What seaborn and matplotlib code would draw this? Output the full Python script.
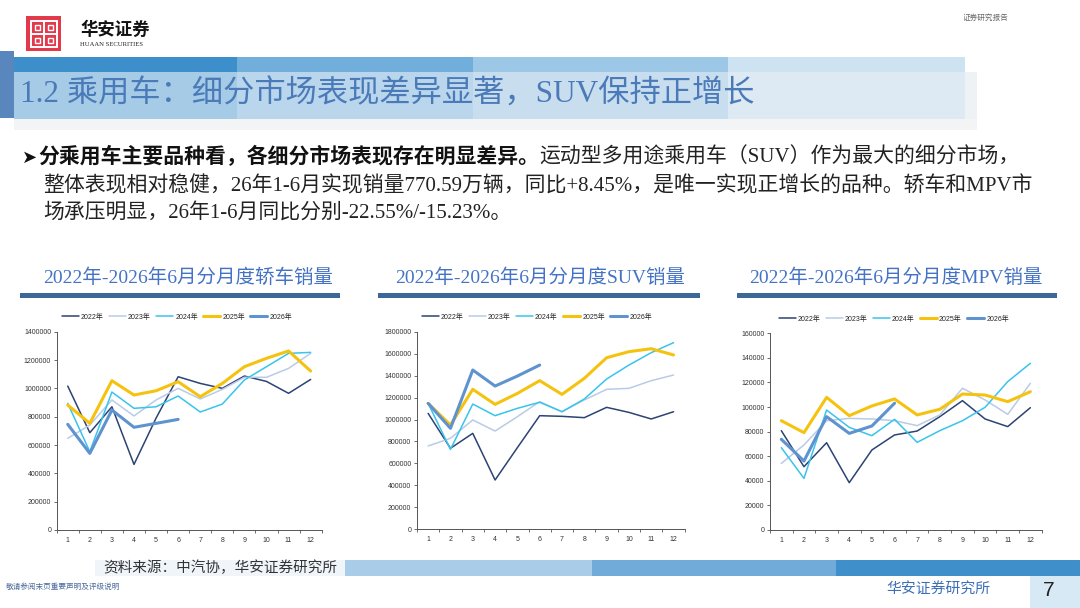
import numpy as np
import pandas as pd
import matplotlib
matplotlib.use("Agg")
import matplotlib.pyplot as plt
import seaborn as sns
from matplotlib.patches import Rectangle
from matplotlib.ticker import FuncFormatter

# ---- data ----
MONTHS = list(range(1, 13))
YEARS = ["2022年", "2023年", "2024年", "2025年", "2026年"]

SEDAN_2022 = [1016000, 687000, 870000, 463000, 790000, 1082000, 1035000, 1000000, 1087000, 1049000, 965000, 1063000]
SEDAN_2023 = [647000, 741000, 918000, 805000, 918000, 1000000, 925000, 993000, 1078000, 1078000, 1141000, 1247000]
SEDAN_2024 = [894000, 553000, 974000, 859000, 870000, 946000, 833000, 889000, 1059000, 1153000, 1247000, 1254000]
SEDAN_2025 = [882000, 753000, 1054000, 953000, 983000, 1047000, 941000, 1035000, 1153000, 1212000, 1264000, 1122000]
SEDAN_2026 = [746000, 541000, 847000, 725000, 753000, 781000]

SUV_2022 = [1056000, 738000, 874000, 449000, 744000, 1035000, 1029000, 1017000, 1111000, 1065000, 1005000, 1071000]
SUV_2023 = [759000, 829000, 996000, 895000, 1026000, 1163000, 1071000, 1178000, 1275000, 1284000, 1354000, 1405000]
SUV_2024 = [1147000, 728000, 1141000, 1035000, 1102000, 1157000, 1071000, 1187000, 1369000, 1496000, 1609000, 1700000]
SUV_2025 = [1147000, 950000, 1275000, 1138000, 1238000, 1354000, 1229000, 1375000, 1563000, 1618000, 1645000, 1588000]
SUV_2026 = [1147000, 920000, 1451000, 1305000, 1396000, 1496000]

MPV_2022 = [80800, 51500, 71000, 38500, 65100, 77300, 80500, 92200, 105200, 90300, 84100, 99500]
MPV_2023 = [54200, 69200, 88900, 90800, 90300, 88900, 84900, 93600, 115300, 105800, 94100, 119300]
MPV_2024 = [67000, 42000, 97600, 83500, 76700, 90000, 71300, 80800, 88900, 99800, 120700, 135600]
MPV_2025 = [88900, 79200, 107900, 93000, 100900, 106600, 93600, 98200, 110600, 109800, 104400, 112500]
MPV_2026 = [73800, 56100, 92200, 78600, 84600, 103100]

CHART_TITLES = ["2022年-2026年6月分月度轿车销量", "2022年-2026年6月分月度SUV销量", "2022年-2026年6月分月度MPV销量"]
Y_TOPS = [1400000, 1800000, 160000]
Y_STEPS = [200000, 200000, 20000]

PALETTE = {"2022年": "#2C4373", "2023年": "#B9CBE6", "2024年": "#38C4EC",
           "2025年": "#F5C30F", "2026年": "#5F93CF"}
WIDTHS = {"2022年": 1.1, "2023年": 1.1, "2024年": 1.1, "2025年": 2.2, "2026年": 2.2}

SERIF_CJK = ["Liberation Serif", "Noto Sans CJK SC", "DejaVu Sans"]


def to_long(series_list):
    rows = []
    for year, vals in zip(YEARS, series_list):
        for m, v in zip(MONTHS, vals):
            rows.append({"month": m, "sales": v, "year": year})
    return pd.DataFrame(rows)


datasets = [
    to_long([SEDAN_2022, SEDAN_2023, SEDAN_2024, SEDAN_2025, SEDAN_2026]),
    to_long([SUV_2022, SUV_2023, SUV_2024, SUV_2025, SUV_2026]),
    to_long([MPV_2022, MPV_2023, MPV_2024, MPV_2025, MPV_2026]),
]

sns.set_theme(style="white")
plt.rcParams["font.family"] = ["Liberation Sans", "Noto Sans CJK SC", "DejaVu Sans"]

W, H = 1080, 608
fig = plt.figure(figsize=(W / 100, H / 100), dpi=100)
fig.patch.set_facecolor("white")

# background layer in pixel coordinates (y down)
bg = fig.add_axes([0, 0, 1, 1], zorder=0)
bg.set_xlim(0, W)
bg.set_ylim(H, 0)
bg.axis("off")


def box(x0, y0, x1, y1, color):
    bg.add_patch(Rectangle((x0, y0), x1 - x0, y1 - y0, facecolor=color, lw=0))


# logo
box(26, 16, 61, 51, "#E23A4B")
bg.add_patch(Rectangle((30.5, 20.5), 26, 26, fill=False, ec="white", lw=1.4))
bg.plot([43.5, 43.5], [20.5, 46.5], color="white", lw=1.4)
bg.plot([30.5, 56.5], [33.5, 33.5], color="white", lw=1.4)
for (cx, cy) in [(37, 27), (50, 27), (37, 40), (50, 40)]:
    bg.add_patch(Rectangle((cx - 2.5, cy - 2.5), 5, 5, fill=False, ec="white", lw=1.0))
bg.text(80, 30, "华安证券", fontsize=12.5, fontweight="bold", color="#111111",
        family=SERIF_CJK, va="center", ha="left")
bg.text(80, 45, "HUAAN SECURITIES", fontsize=4.8, color="#222222",
        family=SERIF_CJK, va="center", ha="left")
bg.text(985, 18, "证券研究报告", fontsize=5.5, color="#666666",
        family=SERIF_CJK, va="center", ha="center")

# title banner
box(0, 51, 14, 118, "#5A86BE")
box(14, 57, 237, 72, "#3D8FCB")
box(237, 57, 473, 72, "#72AEDC")
box(473, 57, 728, 72, "#9DC7E7")
box(728, 57, 965, 72, "#CDE3F2")
box(14, 72, 237, 119, "#A6CBE7")
box(237, 72, 473, 119, "#BAD6EC")
box(473, 72, 728, 119, "#C8DEEF")
box(728, 72, 965, 119, "#DDE9F3")
box(965, 72, 977, 119, "#EEF2F5")
box(14, 119, 977, 130, "#F3F4F5")
bg.text(20, 95, "1.2 乘用车：细分市场表现差异显著，SUV保持正增长", fontsize=22.5,
        color="#4A7AB8", family=SERIF_CJK, va="center", ha="left")

# body text
renderer = fig.canvas.get_renderer()
bg.text(22, 158, "➤", fontsize=13, color="#111111", family=["DejaVu Sans"],
        va="center", ha="left")
t_bold = bg.text(38, 158, "分乘用车主要品种看，各细分市场表现存在明显差异。", fontsize=15,
                 fontweight="bold", color="#111111", family=SERIF_CJK, va="center", ha="left")
bb = t_bold.get_window_extent(renderer=renderer)
x_end = bg.transData.inverted().transform((bb.x1, bb.y0))[0]
bg.text(x_end, 158, "运动型多用途乘用车（SUV）作为最大的细分市场，", fontsize=15,
        color="#222222", family=SERIF_CJK, va="center", ha="left")
bg.text(43, 186, "整体表现相对稳健，26年1-6月实现销量770.59万辆，同比+8.45%，是唯一实现正增长的品种。轿车和MPV市",
        fontsize=15, color="#222222", family=SERIF_CJK, va="center", ha="left")
bg.text(43, 213, "场承压明显，26年1-6月同比分别-22.55%/-15.23%。",
        fontsize=15, color="#222222", family=SERIF_CJK, va="center", ha="left")

# chart titles + underline bars
title_x = [188, 540, 896]
bars = [(20, 340), (378, 700), (737, 1057)]
for tx, (b0, b1), ttl in zip(title_x, bars, CHART_TITLES):
    bg.text(tx, 278, ttl, fontsize=14, color="#4472C4", family=SERIF_CJK,
            va="center", ha="center")
    box(b0, 293, b1, 298, "#3B6896")

# footer
box(95, 560, 345, 576, "#F0F5FA")
box(345, 560, 592, 576, "#A9CCE9")
box(592, 560, 836, 576, "#70ABDA")
box(836, 560, 1080, 576, "#3F8FCB")
bg.text(103, 568, "资料来源：中汽协，华安证券研究所", fontsize=10.5, color="#333333",
        family=SERIF_CJK, va="center", ha="left")
box(1030, 576, 1080, 608, "#D8E9F6")
bg.text(938, 589, "华安证券研究所", fontsize=10.7, color="#3D6FB6",
        family=SERIF_CJK, va="center", ha="center")
bg.text(1049, 590, "7", fontsize=15, color="#222222", va="center", ha="center")
bg.text(6, 587, "敬请参阅末页重要声明及评级说明", fontsize=5.5, color="#4D6A9C",
        family=SERIF_CJK, va="center", ha="left")

# the three line charts
frames = [(56.7, 321.7, 331.7, 530.0), (417.0, 684.7, 331.7, 529.3), (770.0, 1041.7, 333.3, 530.0)]
legend_x = [0.454, 0.448, 0.456]
legend_y = [317, 317, 319]

for i, df in enumerate(datasets):
    x0, x1, y0, y1 = frames[i]
    ax = fig.add_axes([x0 / W, 1 - y1 / H, (x1 - x0) / W, (y1 - y0) / H], zorder=1)
    ax.set_facecolor("none")
    sns.lineplot(data=df, x="month", y="sales", hue="year", size="year",
                 palette=PALETTE, sizes=WIDTHS, hue_order=YEARS, size_order=YEARS, ax=ax)
    ax.set_xlim(0.5, 12.5)
    ax.set_ylim(0, Y_TOPS[i])
    ax.set_yticks(np.arange(0, Y_TOPS[i] + 1, Y_STEPS[i]))
    ax.yaxis.set_major_formatter(FuncFormatter(lambda v, p: f"{int(v)}"))
    ax.set_xticks(MONTHS)
    ax.set_xticks(np.arange(0.5, 13, 1), minor=True)
    ax.set_xlabel("")
    ax.set_ylabel("")
    for side in ["top", "right"]:
        ax.spines[side].set_visible(False)
    for side in ["left", "bottom"]:
        ax.spines[side].set_color("#555555")
        ax.spines[side].set_linewidth(0.7)
    ax.tick_params(axis="x", which="major", length=0, pad=5, labelsize=5, labelcolor="#333333")
    ax.tick_params(axis="x", which="minor", length=2.5, width=0.6, color="#555555",
                   direction="out", bottom=True)
    ax.tick_params(axis="y", which="major", length=2.5, width=0.6, color="#555555",
                   direction="out", left=True, pad=1.5, labelsize=5, labelcolor="#333333")
    ax.grid(False)
    ly = (y1 - legend_y[i]) / (y1 - y0)
    sns.move_legend(ax, "center", bbox_to_anchor=(legend_x[i], ly), ncol=5, frameon=False,
                    title=None, fontsize=5, handlelength=2.4, handletextpad=0.3,
                    columnspacing=0.8)

fig.savefig("out.png", dpi=100)
